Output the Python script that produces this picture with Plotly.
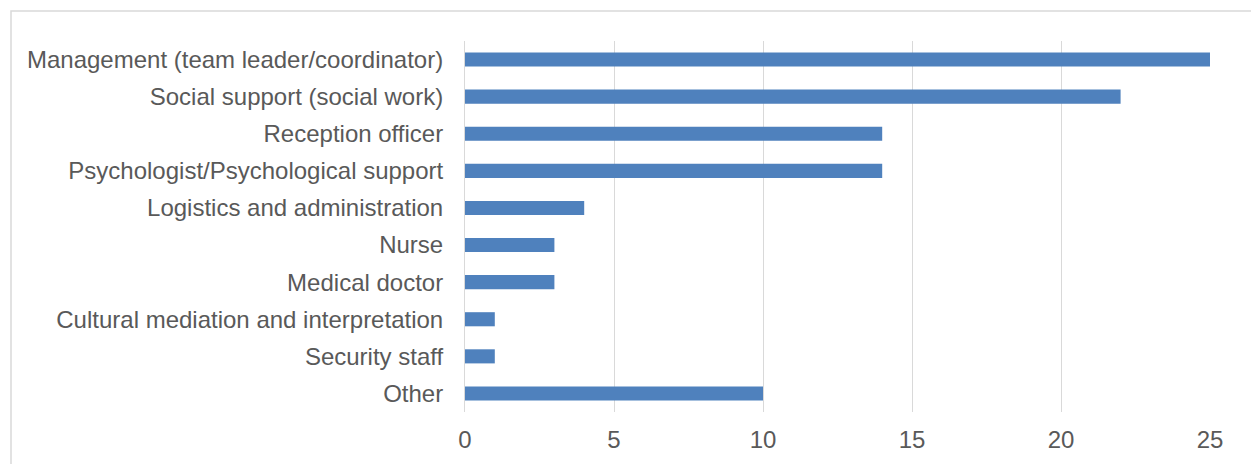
import plotly.graph_objects as go

categories = [
    "Management (team leader/coordinator)",
    "Social support (social work)",
    "Reception officer",
    "Psychologist/Psychological support",
    "Logistics and administration",
    "Nurse",
    "Medical doctor",
    "Cultural mediation and interpretation",
    "Security staff",
    "Other",
]
values = [25, 22, 14, 14, 4, 3, 3, 1, 1, 10]
x_ticks = [0, 5, 10, 15, 20, 25]

OFF = 8  # page body margin
W, H = 1259, 464
L, R, T, B = 465 - OFF, 49 + OFF, 41 - OFF, 52 + OFF
pw, ph = W - L - R, H - T - B

fig = go.Figure(go.Bar(
    x=values, y=categories, orientation="h",
    marker=dict(color="#4F81BD", line=dict(width=0)),
    width=0.38,
))

fig.update_layout(
    width=W, height=H,
    margin=dict(l=L, r=R, t=T, b=B, pad=0),
    paper_bgcolor="white", plot_bgcolor="white",
    font=dict(family="Liberation Sans, Arial, sans-serif", size=24, color="#595959"),
    showlegend=False,
)
fig.update_xaxes(
    range=[0, 25], tickvals=x_ticks, showgrid=True, gridcolor="#D9D9D9", gridwidth=1,
    zeroline=False, showline=False, ticks="", ticklabelstandoff=11,
    tickfont=dict(size=24, color="#595959"),
)
fig.update_yaxes(
    autorange="reversed", showgrid=False, zeroline=False,
    showline=True, linecolor="#D9D9D9", linewidth=1,
    ticks="", ticklabelstandoff=16,
    tickfont=dict(size=24, color="#595959"),
)
fig.add_shape(
    type="rect", xref="paper", yref="paper",
    x0=(11 - 465) / pw, x1=(1253 - 465) / pw,
    y0=-(480 - 412) / ph, y1=1 + (41 - 11) / ph,
    line=dict(color="#D9D9D9", width=1.5), fillcolor="rgba(0,0,0,0)", layer="below",
)
fig.write_html("out.html")
